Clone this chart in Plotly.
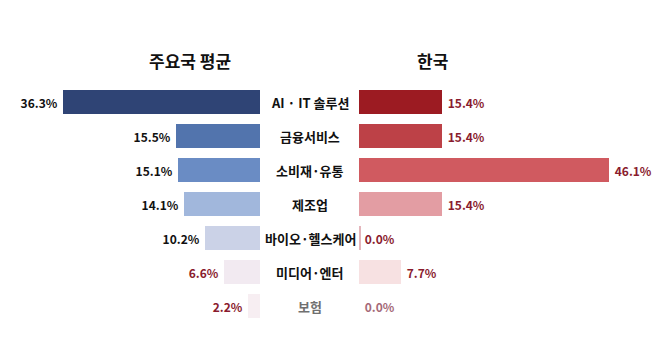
import plotly.graph_objects as go
from plotly.subplots import make_subplots

categories = ["AI · IT 솔루션", "금융서비스", "소비재·유통", "제조업", "바이오·헬스케어", "미디어·엔터", "보험"]
major_avg = [36.3, 15.5, 15.1, 14.1, 10.2, 6.6, 2.2]
korea = [15.4, 15.4, 46.1, 15.4, 0.0, 7.7, 0.0]
title_left = "주요국 평균"
title_right = "한국"

left_colors = ["#2F4475", "#5274AD", "#6A8CC4", "#A1B7DC", "#CBD2E7", "#F2EAF1", "#F7EEF2"]
right_colors = ["#9C1B22", "#BD4147", "#D05A60", "#E39DA3", "#E4B6BC", "#F7E1E2", "#FFFFFF"]
left_text_colors = ["#111111"] * 5 + ["#8A1C2E", "#8A1C2E"]
right_text_colors = ["#8A1C2E"] * 6 + ["#A56A78"]
label_colors = ["#111111"] * 6 + ["#707070"]

FONT = "Noto Sans CJK KR"
W, H = 658, 343
ys = list(range(len(categories)))

fig = make_subplots(rows=1, cols=2)

fig.add_trace(go.Bar(
    x=major_avg, y=ys, orientation="h",
    marker=dict(color=left_colors, line=dict(width=0)),
    width=0.68,
    text=[f"{v:.1f}% " for v in major_avg], textposition="outside",
    textfont=dict(family=FONT, size=12, color=left_text_colors, weight="bold"),
    cliponaxis=False, hoverinfo="skip",
), row=1, col=1)

fig.add_trace(go.Bar(
    x=korea, y=ys, orientation="h",
    marker=dict(color=right_colors,
                line=dict(width=[0, 0, 0, 0, 4, 0, 0], color="#E4B6BC")),
    width=0.68,
    text=[f" {v:.1f}%" for v in korea], textposition="outside",
    textfont=dict(family=FONT, size=12, color=right_text_colors, weight="bold"),
    cliponaxis=False, hoverinfo="skip",
), row=1, col=2)

px_per = 5.42
left_px = 260
right_start = 359
yrange = [(H - 102) / 34, -102 / 34]

fig.update_layout(
    width=W, height=H, margin=dict(l=0, r=0, t=0, b=0),
    paper_bgcolor="white", plot_bgcolor="white",
    showlegend=False, bargap=0,
    xaxis=dict(domain=[0, left_px / W], range=[left_px / px_per, 0],
               visible=False, fixedrange=True),
    xaxis2=dict(domain=[right_start / W, 1], range=[0, (W - right_start) / px_per],
                visible=False, fixedrange=True),
    yaxis=dict(range=yrange, visible=False),
    yaxis2=dict(range=yrange, visible=False, matches="y"),
)

for i, c in enumerate(categories):
    fig.add_annotation(x=310 / W, xref="paper", y=i, yref="y", text=c,
                       showarrow=False, xanchor="center", yanchor="middle",
                       font=dict(family=FONT, size=13, color=label_colors[i], weight="bold"))

fig.add_annotation(x=190 / W, xref="paper", y=1 - 60 / H, yref="paper", text=title_left,
                   showarrow=False, xanchor="center", yanchor="middle",
                   font=dict(family=FONT, size=17, color="#111111", weight="bold"))
fig.add_annotation(x=432 / W, xref="paper", y=1 - 60 / H, yref="paper", text=title_right,
                   showarrow=False, xanchor="center", yanchor="middle",
                   font=dict(family=FONT, size=17, color="#111111", weight="bold"))

fig.write_html("out.html")
